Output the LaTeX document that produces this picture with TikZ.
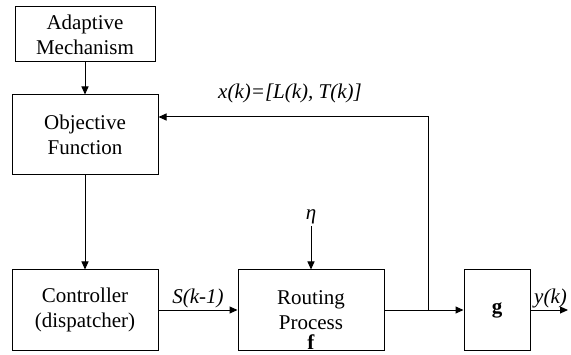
\documentclass[tikz,border=0pt]{standalone}
\usepackage{fontspec}
\setmainfont{Liberation Serif}
\usetikzlibrary{arrows.meta}

\begin{document}
\begin{tikzpicture}[x=1pt,y=1pt,>={Triangle[length=8pt,width=7pt]},
		every node/.style={font=\fontsize{21}{25}\selectfont},
		blk/.style={draw,line width=1pt,align=center,inner sep=0pt},
		lbl/.style={inner sep=2pt,font=\fontsize{21}{25}\selectfont\itshape}]
			\useasboundingbox (0,0) rectangle (571,354);
			\node[blk,minimum width=140,minimum height=55] (am) at (85,319.5) {Adaptive\\Mechanism};
			\node[blk,minimum width=146,minimum height=80] (of) at (85,219) {Objective\\Function};
			\node[blk,minimum width=146,minimum height=80] (ctrl) at (85,44) {Controller\\(dispatcher)};
			\node[blk,minimum width=146,minimum height=80,
				label={[anchor=south,inner sep=0pt,yshift=1pt]south:\textbf{f}}] (rp) at (311,44) {Routing\\Process};
			\node[blk,minimum width=66,minimum height=80] (g) at (497,44) {\textbf{g}};
			\node[lbl] (eta) at (311,137) {η};
			\node[lbl] (xk) at (290,261) {x(k)=[L(k), T(k)]};
			\node[lbl,anchor=west] (yk) at (532,56) {y(k)};
			\coordinate (jn) at (428,44);
			\coordinate (out) at (568,44);
			\path[->,line width=1pt]
			(am) edge (of)
			(of) edge (ctrl)
			(ctrl) edge node[lbl,above] {S(k-1)} (rp)
			(eta) edge (rp)
			(rp) edge (g)
			(g) edge (out);
			\draw[->,line width=1pt] (jn) |- ([yshift=18pt]of.east);
		\end{tikzpicture}
\end{document}
